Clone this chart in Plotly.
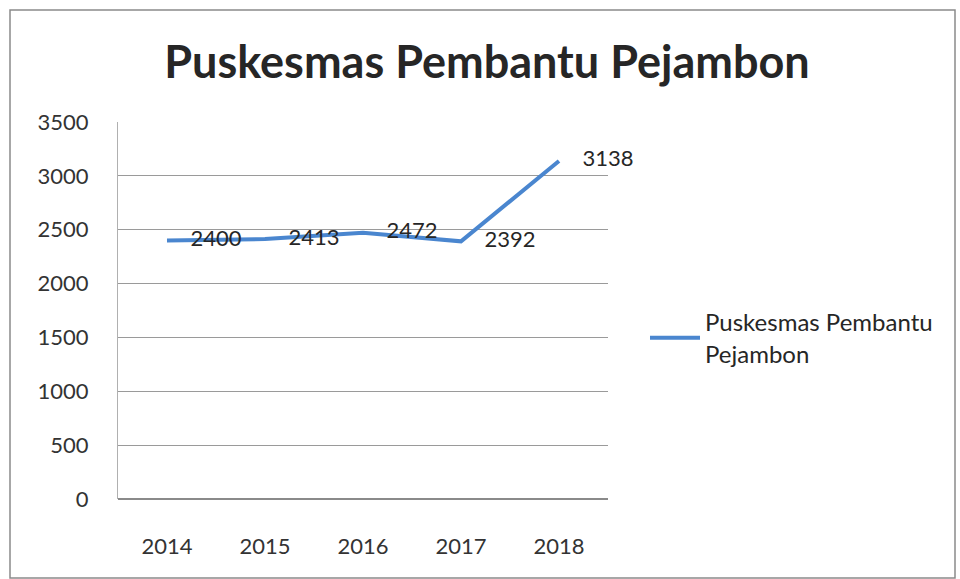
import plotly.graph_objects as go

years = ["2014", "2015", "2016", "2017", "2018"]
values = [2400, 2413, 2472, 2392, 3138]
series_name = "Puskesmas Pembantu<br>Pejambon"
title_text = "Puskesmas Pembantu Pejambon"

W, H = 960, 579
L, R, T, B = 118, 352, 122, 80
pw, ph = W - L - R, H - T - B
FONT = "Lato, Open Sans, sans-serif"

def px_x(x):
    return (x - L) / pw

def px_y(y):
    return (H - B - y) / ph

fig = go.Figure()
fig.add_trace(go.Scatter(
    x=years, y=values, mode="lines+markers+text",
    name=series_name,
    line=dict(color="#4A86CF", width=4),
    marker=dict(size=36, color="rgba(0,0,0,0)"),
    text=[str(v) for v in values],
    textposition="middle right",
    textfont=dict(family=FONT, size=22, color="#262626"),
    cliponaxis=False,
))

fig.update_layout(
    width=W, height=H,
    margin=dict(l=L, r=R, t=T, b=B),
    paper_bgcolor="white", plot_bgcolor="white",
    title=dict(text="<b>" + title_text + "</b>", x=487 / W, xanchor="center",
               y=1 - 62 / H, yanchor="middle",
               font=dict(family=FONT, size=45, color="#262626")),
    xaxis=dict(type="category", range=[-0.5, 4.5], showgrid=False, showline=False,
               ticks="", tickfont=dict(family=FONT, size=22, color="#333333"),
               ticklabelstandoff=32),
    yaxis=dict(range=[0, 3500], dtick=500, showgrid=True, gridcolor="#9a9a9a", gridwidth=1,
               showline=True, linecolor="#b0b0b0", linewidth=1, zeroline=True, zerolinecolor="#8a8a8a",
               ticks="", tickfont=dict(family=FONT, size=22, color="#333333"),
               ticklabelstandoff=24),
    showlegend=True,
    legend=dict(x=px_x(645), y=px_y(338), xanchor="left", yanchor="middle",
                font=dict(family=FONT, size=24, color="#262626"),
                bgcolor="rgba(0,0,0,0)", itemwidth=50),
    shapes=[dict(type="rect", xref="paper", yref="paper",
                 x0=px_x(10), x1=px_x(955), y0=px_y(578), y1=px_y(10),
                 line=dict(color="#8a8a8a", width=1.5), fillcolor="rgba(0,0,0,0)", layer="below")],
)

fig.write_html("out.html")
